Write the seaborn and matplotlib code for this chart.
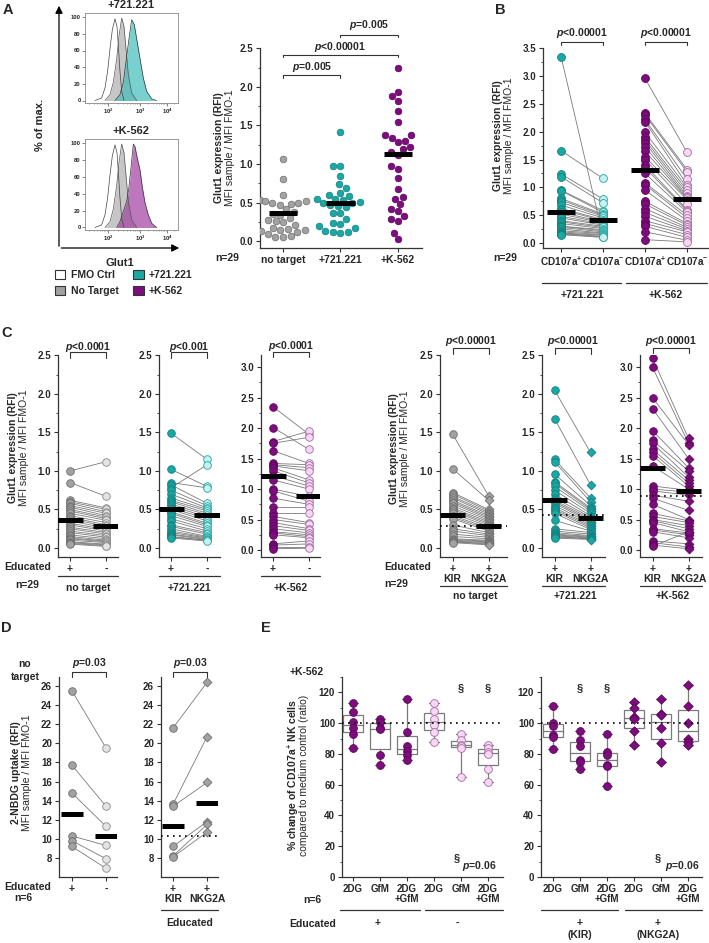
import numpy as np
import pandas as pd
import matplotlib.pyplot as plt
import seaborn as sns
from matplotlib.lines import Line2D
from matplotlib.patches import Patch, FancyArrowPatch
from matplotlib.ticker import MultipleLocator, FixedLocator

# --- Data ---
# A: histograms (display channel, % of max)
h_x_fmo = [110, 183, 220, 249, 275, 301, 330, 352, 367, 385, 404, 429]
h_y_fmo = [0, 3, 15, 35, 62, 85, 98, 89, 66, 35, 11, 0]
h_x_none = [220, 275, 312, 349, 374, 404, 429, 448, 477, 514, 569]
h_y_none = [0, 7, 22, 50, 77, 99, 89, 66, 31, 9, 0]
h_x_721 = [330, 385, 422, 451, 484, 514, 543, 569, 606, 642, 679, 734, 789]
h_y_721 = [0, 7, 22, 46, 74, 97, 91, 74, 50, 27, 11, 2, 0]
h_x_k562 = [349, 385, 422, 459, 484, 507, 532, 550, 580, 606, 631, 661, 697, 734, 789]
h_y_k562 = [0, 7, 19, 31, 48, 72, 99, 96, 80, 68, 48, 29, 15, 5, 0]

# A: Glut1 RFI per target
a_groups = ['no target', '+721.221', '+K-562']
a_none = [1.06, 0.80, 0.60, 0.53, 0.52, 0.52, 0.50, 0.49, 0.48, 0.47, 0.41, 0.38, 0.35, 0.34, 0.30,
          0.27, 0.26, 0.25, 0.21, 0.17, 0.16, 0.14, 0.14, 0.13, 0.12, 0.09, 0.07, 0.05, 0.05]
a_721 = [1.41, 0.97, 0.97, 0.85, 0.74, 0.69, 0.62, 0.60, 0.59, 0.55, 0.54, 0.53, 0.51, 0.50, 0.49,
         0.47, 0.46, 0.44, 0.37, 0.37, 0.29, 0.24, 0.22, 0.19, 0.17, 0.13, 0.12, 0.12, 0.11]
a_k562 = [2.24, 1.94, 1.88, 1.82, 1.69, 1.55, 1.37, 1.37, 1.34, 1.30, 1.28, 1.22, 1.19, 1.16, 1.12,
          0.97, 0.93, 0.82, 0.67, 0.57, 0.55, 0.48, 0.42, 0.39, 0.32, 0.29, 0.26, 0.11, 0.03]
a_bar = [0.36, 0.50, 1.13]

# B: CD107a+ vs CD107a-
b721_pos = [3.35, 1.66, 1.24, 1.19, 0.95, 0.94, 0.80, 0.77, 0.73, 0.68, 0.62, 0.60, 0.55, 0.52, 0.48,
            0.45, 0.40, 0.38, 0.35, 0.30, 0.30, 0.28, 0.25, 0.22, 0.20, 0.18, 0.17, 0.16, 0.15]
b721_neg = [0.12, 1.16, 0.79, 0.72, 0.58, 0.55, 0.52, 0.50, 0.48, 0.45, 0.42, 0.40, 0.38, 0.36, 0.34,
            0.32, 0.30, 0.28, 0.26, 0.24, 0.22, 0.20, 0.18, 0.17, 0.15, 0.14, 0.12, 0.11, 0.10]
bk_pos = [2.96, 2.33, 2.30, 2.22, 2.18, 1.99, 1.90, 1.85, 1.80, 1.73, 1.65, 1.55, 1.50, 1.40, 1.35,
          1.25, 1.08, 1.05, 0.95, 0.75, 0.70, 0.62, 0.55, 0.48, 0.40, 0.35, 0.30, 0.20, 0.06]
bk_neg = [1.63, 1.32, 1.28, 1.15, 1.05, 1.00, 0.95, 0.90, 0.85, 0.82, 0.80, 0.78, 0.70, 0.60, 0.58,
          0.55, 0.50, 0.45, 0.40, 0.35, 0.32, 0.28, 0.25, 0.22, 0.20, 0.15, 0.10, 0.05, 0.02]
b_bar = [0.56, 0.42, 1.31, 0.79]

# C: educated + / -
c_none_pos = [1.00, 0.85, 0.62, 0.60, 0.58, 0.55, 0.53, 0.50, 0.48, 0.45, 0.42, 0.40, 0.38, 0.35, 0.32,
              0.30, 0.27, 0.25, 0.22, 0.20, 0.17, 0.15, 0.13, 0.12, 0.10, 0.08, 0.07, 0.06, 0.05]
c_none_neg = [1.12, 0.67, 0.52, 0.50, 0.47, 0.45, 0.42, 0.40, 0.38, 0.36, 0.33, 0.30, 0.28, 0.26, 0.24,
              0.22, 0.20, 0.18, 0.16, 0.14, 0.12, 0.10, 0.09, 0.08, 0.07, 0.05, 0.04, 0.03, 0.02]
c_721_pos = [1.49, 1.02, 0.85, 0.82, 0.78, 0.75, 0.70, 0.65, 0.62, 0.60, 0.57, 0.55, 0.52, 0.50, 0.47,
             0.45, 0.42, 0.38, 0.35, 0.30, 0.28, 0.25, 0.22, 0.20, 0.18, 0.17, 0.15, 0.14, 0.13]
c_721_neg = [1.15, 0.80, 0.78, 0.58, 1.08, 0.55, 0.52, 0.50, 0.48, 0.45, 0.43, 0.40, 0.38, 0.35, 0.32,
             0.30, 0.28, 0.25, 0.22, 0.20, 0.18, 0.15, 0.14, 0.13, 0.12, 0.11, 0.10, 0.10, 0.09]
c_k_pos = [2.35, 2.01, 1.78, 1.75, 1.63, 1.42, 1.40, 1.38, 1.35, 1.30, 1.22, 1.15, 1.00, 0.97, 0.85,
           0.70, 0.60, 0.55, 0.50, 0.45, 0.40, 0.35, 0.30, 0.28, 0.25, 0.10, 0.08, 0.05, 0.02]
c_k_neg = [1.90, 1.65, 1.95, 1.85, 1.42, 1.40, 1.35, 1.30, 1.15, 1.10, 1.05, 1.00, 0.88, 0.80, 0.75,
           0.70, 0.60, 0.45, 0.42, 0.35, 0.32, 0.28, 0.25, 0.22, 0.20, 0.15, 0.10, 0.05, 0.03]
c_edu_bar = [[0.36, 0.29], [0.50, 0.43], [1.21, 0.89]]

# C: KIR vs NKG2A educated
kir_none = [1.48, 1.03, 0.72, 0.70, 0.67, 0.65, 0.62, 0.60, 0.58, 0.55, 0.52, 0.50, 0.48, 0.45, 0.42,
            0.40, 0.38, 0.30, 0.25, 0.22, 0.18, 0.15, 0.12, 0.11, 0.10, 0.09, 0.08, 0.08, 0.07]
nkg_none = [0.68, 0.62, 0.50, 0.48, 0.46, 0.44, 0.42, 0.40, 0.38, 0.36, 0.34, 0.32, 0.30, 0.28, 0.26,
            0.24, 0.22, 0.20, 0.18, 0.16, 0.14, 0.12, 0.10, 0.09, 0.08, 0.07, 0.06, 0.05, 0.04]
kir_721 = [2.05, 1.68, 1.15, 1.12, 0.96, 0.86, 0.84, 0.80, 0.75, 0.70, 0.65, 0.62, 0.60, 0.58, 0.55,
           0.52, 0.50, 0.48, 0.45, 0.36, 0.25, 0.22, 0.20, 0.18, 0.17, 0.16, 0.15, 0.14, 0.13]
nkg_721 = [1.24, 0.82, 0.65, 0.60, 0.55, 0.52, 0.50, 0.48, 0.45, 0.42, 0.40, 0.38, 0.36, 0.34, 0.32,
           0.30, 0.28, 0.26, 0.24, 0.22, 0.20, 0.18, 0.16, 0.15, 0.14, 0.13, 0.12, 0.12, 0.11]
kir_k = [3.15, 3.00, 2.50, 2.32, 1.96, 1.80, 1.75, 1.65, 1.60, 1.55, 1.38, 1.05, 1.00, 0.97, 0.90,
         0.85, 0.75, 0.60, 0.55, 0.50, 0.48, 0.45, 0.35, 0.33, 0.30, 0.15, 0.12, 0.08, 0.06]
nkg_k = [1.83, 1.75, 1.73, 1.50, 1.35, 1.30, 1.20, 1.15, 1.10, 1.05, 1.00, 0.98, 0.95, 0.90, 0.80,
         0.65, 0.50, 0.48, 0.45, 0.40, 0.35, 0.30, 0.28, 0.25, 0.20, 0.10, 0.05, 0.02, 0.30]
c_rec_bar = [[0.43, 0.29], [0.62, 0.39], [1.35, 0.97]]

# D: 2-NBDG uptake
d_pos = [25.5, 17.7, 14.8, 10.3, 9.8, 9.2]
d_neg = [19.5, 13.4, 11.3, 9.3, 7.9, 6.9]
d_edu_bar = [12.6, 10.3]
d_kir = [21.6, 13.6, 13.4, 9.2, 8.2, 8.1]
d_nkg = [26.4, 20.7, 15.9, 11.8, 11.5, 10.7]
d_rec_bar = [11.3, 13.8]

# E: % change of CD107a+ NK cells (2DG, GfM, 2DG+GfM)
e_labels = ['2DG', 'GfM', '2DG\n+GfM']
e_edu_pos = [[113, 107, 101, 97, 93, 84], [103, 101, 97, 96, 79, 73], [116, 94, 85, 82, 79, 76]]
e_edu_neg = [[113, 108, 103, 99, 94, 88], [93, 89, 86, 85, 84, 65], [86, 84, 81, 80, 70, 62]]
e_kir = [[111, 100, 98, 92, 91, 83], [95, 89, 85, 76, 75, 70], [93, 81, 79, 73, 72, 59]]
e_nkg = [[114, 110, 104, 103, 95, 86], [116, 106, 105, 97, 87, 75], [125, 111, 100, 90, 88, 86]]

# --- Colours ---
GREY, GREY_E = '#a2a2a2', '#6c6c6c'
LGREY, LGREY_E = '#e4e4e4', '#8a8a8a'
TEAL, TEAL_E = '#1ba7a4', '#12807e'
LTEAL, LTEAL_E = '#c9f1f0', '#1ba7a4'
PURP, PURP_E = '#7d0c7d', '#5a065a'
PINK, PINK_E = '#f7d8f2', '#a569a5'
LINE = '#333333'

# --- Styling ---
sns.set_theme(style="ticks")
plt.rcParams['font.family'] = ['Liberation Sans', 'DejaVu Sans']
plt.rcParams['font.weight'] = 'bold'
plt.rcParams['mathtext.fontset'] = 'custom'
plt.rcParams['mathtext.rm'] = 'Liberation Sans:bold'
plt.rcParams['mathtext.it'] = 'Liberation Sans:italic:bold'
plt.rcParams['mathtext.bf'] = 'Liberation Sans:bold'

W, H = 709, 943
fig = plt.figure(figsize=(W / 100, H / 100), dpi=100)


def add_ax(l, t, r, b):
    return fig.add_axes([l / W, 1 - b / H, (r - l) / W, (b - t) / H])


def ftext(x, y, s, size=7.5, ha='center', va='center', **kw):
    fig.text(x / W, 1 - y / H, s, fontsize=size, ha=ha, va=va, **kw)


def fline(x0, x1, y, lw=0.9):
    fig.add_artist(Line2D([x0 / W, x1 / W], [1 - y / H, 1 - y / H], color=LINE, lw=lw))


def farrow(x0, y0, x1, y1):
    fig.add_artist(FancyArrowPatch((x0 / W, 1 - y0 / H), (x1 / W, 1 - y1 / H), transform=fig.transFigure,
                                   arrowstyle='-|>', mutation_scale=11, color='black', lw=0.9))


def ylabel2(x, y, top, bottom, size=7.5):
    ftext(x, y, top, size=size, rotation=90)
    ftext(x + 11, y, bottom, size=size, rotation=90, fontweight='normal')


def style(ax, xlim, ylim, major=None, minor=None, yticks=None, size=7):
    sns.despine(ax=ax)
    ax.set_xlim(*xlim)
    ax.set_ylim(*ylim)
    if yticks is not None:
        ax.yaxis.set_major_locator(FixedLocator(yticks))
    else:
        ax.yaxis.set_major_locator(MultipleLocator(major))
    if minor:
        ax.yaxis.set_minor_locator(MultipleLocator(minor))
    ax.tick_params(which='major', direction='out', length=3, width=0.8, labelsize=size, pad=2, color=LINE)
    ax.tick_params(which='minor', direction='out', length=1.8, width=0.6, color=LINE)
    ax.tick_params(axis='x', which='minor', length=0)
    for s in ax.spines.values():
        s.set_color(LINE)
        s.set_linewidth(0.9)
    ax.set_xlabel('')
    ax.set_ylabel('')
    ax.grid(False)
    ax.patch.set_alpha(0)


def bracket(ax, x0, x1, y, drop, label, ty):
    ax.plot([x0, x0, x1, x1], [y - drop, y, y, y - drop], color=LINE, lw=0.8, clip_on=False)
    ax.text((x0 + x1) / 2, ty, label, ha='center', va='center', fontsize=7.5, clip_on=False)


def paired(ax, a, b, fills, edges, markers=('o', 'o'), bars=None, half=0.34):
    ids = np.arange(len(a))
    df = pd.DataFrame({'id': np.r_[ids, ids],
                       'pos': np.r_[np.zeros(len(a)), np.ones(len(b))],
                       'val': np.r_[a, b]})
    sns.lineplot(data=df, x='pos', y='val', units='id', estimator=None, color='#7a7a7a',
                 lw=0.6, ax=ax, legend=False, zorder=1)
    for k in (0, 1):
        sub = df[df['pos'] == k]
        sns.scatterplot(data=sub, x='pos', y='val', color=fills[k], edgecolor=edges[k], linewidth=0.6,
                        marker=markers[k], s=30 if markers[k] == 'o' else 20, ax=ax, legend=False, zorder=3)
    if bars is not None:
        ax.hlines(bars, [k - half for k in (0, 1)], [k + half for k in (0, 1)], color='black', lw=3.6, zorder=5)


# ================= Panel A: histograms =================
hist_sets = [(13, 103, '+721.221', h_x_721, h_y_721, '#3fbdbb'),
             (139, 230, '+K-562', h_x_k562, h_y_k562, '#a23fa2')]
for top, bot, title, hx, hy, col in hist_sets:
    ax = add_ax(85, top, 178, bot)
    ax.fill_between(h_x_fmo, h_y_fmo, color='white', zorder=1)
    ax.plot(h_x_fmo, h_y_fmo, color='#444444', lw=0.5, zorder=4)
    ax.fill_between(h_x_none, h_y_none, color='#b4b4b4', alpha=0.75, lw=0, zorder=2)
    ax.plot(h_x_none, h_y_none, color='#555555', lw=0.5, zorder=4)
    ax.fill_between(hx, hy, color=col, alpha=0.7, lw=0, zorder=3)
    ax.plot(hx, hy, color='#333333', lw=0.5, zorder=4)
    ax.set_xlim(0, 1024)
    ax.set_ylim(-3, 105)
    ax.yaxis.set_major_locator(MultipleLocator(20))
    ax.set_xticks([253, 606, 903])
    ax.set_xticklabels(['$10^2$', '$10^3$', '$10^4$'])
    minor = []
    for lo, hi in ((0, 253), (253, 606), (606, 903), (903, 1160)):
        for k in range(2, 10):
            m = lo + np.log10(k) * (hi - lo) if lo > 0 else hi - (1 - np.log10(k)) * 300
            if 0 < m < 1024:
                minor.append(m)
    ax.set_xticks(minor, minor=True)
    ax.tick_params(which='major', length=2, width=0.5, labelsize=4.2, pad=1, color='#555555')
    ax.tick_params(which='minor', length=1, width=0.4, color='#555555')
    for s in ax.spines.values():
        s.set_linewidth(0.6)
        s.set_color('#888888')
    ax.grid(False)
    ftext(131, top - 8, title, size=8)

farrow(59, 249, 59, 3)
farrow(58.5, 248, 182, 248)
ftext(40, 125, '% of max.', size=8, rotation=90)
ftext(120, 263, 'Glut1', size=8)
fig.legend(handles=[Patch(fc='white', ec=LINE, lw=0.8, label='FMO Ctrl'),
                    Patch(fc='#a0a0a0', ec=LINE, lw=0.8, label='No Target'),
                    Patch(fc=TEAL, ec=LINE, lw=0.8, label='+721.221'),
                    Patch(fc=PURP, ec=LINE, lw=0.8, label='+K-562')],
           ncol=2, loc='upper left', bbox_to_anchor=(55 / W, 1 - 270 / H), frameon=False,
           fontsize=7.5, handlelength=1.0, handleheight=1.0, columnspacing=1.4,
           labelspacing=0.55, handletextpad=0.5, borderaxespad=0, borderpad=0)

# ================= Panel A: scatter =================
ax = add_ax(260, 48, 422, 248)
df_a = pd.DataFrame({'grp': np.repeat(a_groups, [len(a_none), len(a_721), len(a_k562)]),
                     'val': a_none + a_721 + a_k562})
for g, fc, ec in zip(a_groups, [GREY, TEAL, PURP], [GREY_E, TEAL_E, PURP_E]):
    sns.swarmplot(data=df_a[df_a['grp'] == g], x='grp', y='val', order=a_groups, color=fc,
                  edgecolor=ec, linewidth=0.5, size=4.8, ax=ax, zorder=3)
ax.hlines(a_bar, np.arange(3) - 0.25, np.arange(3) + 0.25, color='black', lw=3.6, zorder=5)
style(ax, (-0.4, 2.42), (-0.09, 2.505), major=0.5, minor=0.25)
ax.set_xticks(range(3))
ax.set_xticklabels(a_groups, fontsize=7.5)
bracket(ax, 0, 1, 2.15, 0.03, '$p$=0.005', 2.26)
bracket(ax, 0, 2, 2.42, 0.03, '$p$<0.00001', 2.52)
bracket(ax, 1, 2, 2.68, 0.03, '$p$=0.005', 2.80)
ylabel2(219, 148, 'Glut1 expression (RFI)', 'MFI sample / MFI FMO-1')
ftext(227, 258, 'n=29')

# ================= Panel B =================
ax = add_ax(543, 48, 708, 248)
for off, a, b, cols in ((0, b721_pos, b721_neg, [(TEAL, TEAL_E), (LTEAL, LTEAL_E)]),
                        (2, bk_pos, bk_neg, [(PURP, PURP_E), (PINK, PINK_E)])):
    ids = np.arange(len(a))
    d = pd.DataFrame({'id': np.r_[ids, ids] + off * 100,
                      'pos': np.r_[np.zeros(len(a)), np.ones(len(b))] + off,
                      'val': np.r_[a, b]})
    sns.lineplot(data=d, x='pos', y='val', units='id', estimator=None, color='#7a7a7a',
                 lw=0.6, ax=ax, legend=False, zorder=1)
    for k in (0, 1):
        sub = d[d['pos'] == off + k]
        sns.scatterplot(data=sub, x='pos', y='val', color=cols[k][0], edgecolor=cols[k][1],
                        linewidth=0.6, s=32, ax=ax, legend=False, zorder=3)
ax.hlines(b_bar, np.arange(4) - 0.33, np.arange(4) + 0.33, color='black', lw=3.6, zorder=5)
style(ax, (-0.43, 3.5), (-0.09, 3.505), major=0.5, minor=0.25)
ax.set_xticks(range(4))
ax.set_xticklabels(['CD107a$^{+}$', 'CD107a$^{-}$'] * 2, fontsize=7.2)
bracket(ax, 0, 1, 3.61, 0.06, '$p$<0.00001', 3.78)
bracket(ax, 2, 3, 3.61, 0.06, '$p$<0.00001', 3.78)
ylabel2(498, 136, 'Glut1 expression (RFI)', 'MFI sample / MFI FMO-1')
ftext(505, 258, 'n=29')
fline(542, 621, 283)
fline(626, 707, 283)
ftext(582, 295, '+721.221')
ftext(666, 295, '+K-562')

# ================= Panel C: educated + / - =================
c_left = [(58, 118, c_none_pos, c_none_neg, (GREY, LGREY), (GREY_E, LGREY_E), 'no target'),
          (159, 220, c_721_pos, c_721_neg, (TEAL, LTEAL), (TEAL_E, LTEAL_E), '+721.221'),
          (261, 320, c_k_pos, c_k_neg, (PURP, PINK), (PURP_E, PINK_E), '+K-562')]
for i, (l, r, a, b, fills, edges, name) in enumerate(c_left):
    ax = add_ax(l, 355, r, 557)
    paired(ax, a, b, fills, edges, bars=c_edu_bar[i], half=0.36)
    x0 = -(12 / 36)
    x1 = (r - l - 12) / 36
    if i < 2:
        style(ax, (x0, x1), (-0.117, 2.505), major=0.5, minor=0.25)
        bracket(ax, 0, 1, 2.54, 0.07, '$p$<0.0001' if i == 0 else '$p$<0.001', 2.61)
    else:
        style(ax, (x0, x1), (-0.115, 3.2), major=0.5, minor=0.25)
        bracket(ax, 0, 1, 3.25, 0.08, '$p$<0.0001', 3.34)
    ax.set_xticks([0, 1])
    ax.set_xticklabels(['+', '-'], fontsize=7.5)
    fline(l, r, 576)
    ftext((l + r) / 2, 588, name)
ftext(4, 567, 'Educated', ha='left')
ftext(27, 585, 'n=29')
ylabel2(13, 448, 'Glut1 expression (RFI)', 'MFI sample / MFI FMO-1')

# ================= Panel C: KIR vs NKG2A =================
c_right = [(440, 507, kir_none, nkg_none, GREY, GREY_E, 'no target'),
           (542, 605, kir_721, nkg_721, TEAL, TEAL_E, '+721.221'),
           (640, 702, kir_k, nkg_k, PURP, PURP_E, '+K-562')]
for i, (l, r, a, b, fc, ec, name) in enumerate(c_right):
    ax = add_ax(l, 355, r, 557)
    paired(ax, a, b, (fc, fc), (ec, ec), markers=('o', 'D'), bars=c_rec_bar[i], half=0.36)
    ax.axhline(c_edu_bar[i][1], color='black', ls=(0, (1, 2.6)), lw=1.2, zorder=4)
    x0 = -(12.5 / 36)
    x1 = (r - l - 12.5) / 36
    if i < 2:
        style(ax, (x0, x1), (-0.117, 2.505), major=0.5, minor=0.25)
        bracket(ax, 0, 1, 2.59, 0.07, '$p$<0.00001', 2.69)
    else:
        style(ax, (x0, x1), (-0.115, 3.2), major=0.5, minor=0.25)
        bracket(ax, 0, 1, 3.31, 0.08, '$p$<0.00001', 3.43)
    ax.set_xticks([0, 1])
    ax.set_xticklabels(['+\nKIR', '+\nNKG2A'], fontsize=7.5, linespacing=1.05)
    fline(l, r, 586)
    ftext((l + r) / 2 + 2, 596, name)
ftext(384, 567, 'Educated', ha='left')
ftext(396, 584, 'n=29')
ylabel2(394, 449, 'Glut1 expression (RFI)', 'MFI sample / MFI FMO-1')

# ================= Panel D =================
ax = add_ax(59, 677, 117, 877)
paired(ax, d_pos, d_neg, (GREY, LGREY), (GREY_E, LGREY_E), bars=d_edu_bar, half=0.33)
style(ax, (-0.38, 1.32), (6.0, 26.95), yticks=list(range(8, 27, 2)))
ax.set_xticks([0, 1])
ax.set_xticklabels(['+', '-'], fontsize=7.5)
bracket(ax, 0, 1, 27.45, 0.5, '$p$=0.03', 28.4)

ax = add_ax(161, 677, 218, 877)
paired(ax, d_kir, d_nkg, (GREY, GREY), (GREY_E, GREY_E), markers=('o', 'D'), bars=d_rec_bar, half=0.33)
ax.axhline(d_edu_bar[1], color='black', ls=(0, (1, 2.6)), lw=1.2, zorder=4)
style(ax, (-0.35, 1.32), (6.0, 26.95), yticks=list(range(8, 27, 2)))
ax.set_xticks([0, 1])
ax.set_xticklabels(['+\nKIR', '+\nNKG2A'], fontsize=7.5, linespacing=1.05)
bracket(ax, 0, 1, 27.45, 0.5, '$p$=0.03', 28.4)
fline(161, 218, 910)
ftext(190, 923, 'Educated')

ftext(25, 664, 'no')
ftext(25, 677, 'target')
ylabel2(16, 773, '2-NBDG uptake (RFI)', 'MFI sample / MFI FMO-1')
ftext(4, 887, 'Educated', ha='left')
ftext(23, 898, 'n=6')

# ================= Panel E =================
conds = ['c%d' % i for i in range(6)]


def e_frame(groups):
    rows = []
    for ci, vals in enumerate(groups):
        for v in vals:
            rows.append((conds[ci], v))
    return pd.DataFrame(rows, columns=['cond', 'val'])


e_sets = [(342, 503, e_edu_pos + e_edu_neg, [(PURP, PURP_E, 'o')] * 3 + [(PINK, PINK_E, 'o')] * 3,
           (-0.41, 5.56), [4, 5]),
          (541, 702, e_kir + e_nkg, [(PURP, PURP_E, 'o')] * 3 + [(PURP, PURP_E, 'D')] * 3,
           (-0.44, 5.52), [1, 2])]
for l, r, groups, looks, xlim, sect in e_sets:
    ax = add_ax(l, 677, r, 877)
    df_e = e_frame(groups)
    sns.boxplot(data=df_e, x='cond', y='val', order=conds, color='white', linecolor='#7a7a7a',
                linewidth=0.9, width=0.74, whis=(0, 100), showfliers=False, ax=ax, zorder=2)
    for ci, (fc, ec, mk) in enumerate(looks):
        sns.stripplot(data=df_e[df_e['cond'] == conds[ci]], x='cond', y='val', order=conds, jitter=False,
                      color=fc, edgecolor=ec, linewidth=0.6, marker=mk, size=5.6 if mk == 'o' else 4.8,
                      ax=ax, zorder=3)
    ax.axhline(100, color='black', ls=(0, (1, 2.6)), lw=1.2, zorder=4)
    style(ax, xlim, (0, 130), major=20, minor=10)
    ax.set_xticks(range(6))
    ax.set_xticklabels(e_labels * 2, fontsize=7, linespacing=1.0)
    for s in sect:
        ax.text(s, 123, '§', ha='center', va='center', fontsize=8)

ftext(307, 672, '+K-562')
ylabel2(293, 775, '% change of CD107a$^{+}$ NK cells', 'compared to medium control (ratio)')
for sx, px in ((457, 479), (658, 682)):
    ftext(sx, 858, '§', size=8)
    ftext(px, 866, '$p$=0.06')
ftext(312, 900, 'n=6')
for x0, x1 in ((340, 420), (425, 503), (541, 618), (625, 702)):
    fline(x0, x1, 910)
ftext(313, 924, 'Educated')
ftext(378, 923, '+')
ftext(457, 923, '-')
ftext(580, 923, '+')
ftext(580, 935, '(KIR)')
ftext(658, 923, '+')
ftext(658, 935, '(NKG2A)')

# ================= Panel letters =================
for x, y, s in ((8, 10, 'A'), (500, 10, 'B'), (7, 333, 'C'), (6, 628, 'D'), (266, 628, 'E')):
    ftext(x, y, s, size=10.5)

fig.savefig('out.png', dpi=100)
